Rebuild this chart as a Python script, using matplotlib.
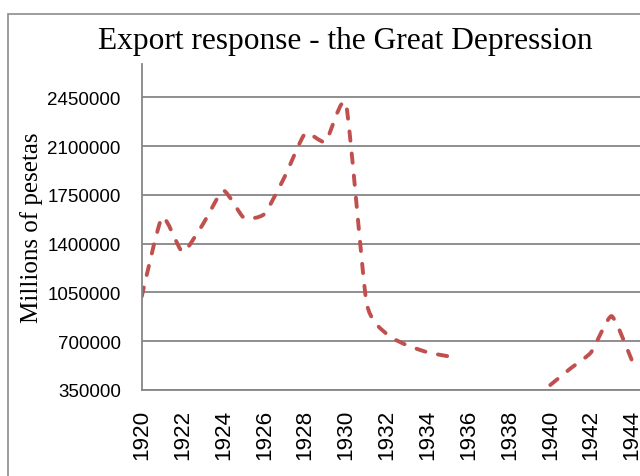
import matplotlib
matplotlib.use("Agg")
import matplotlib.pyplot as plt
from matplotlib.path import Path
from matplotlib.patches import PathPatch, Rectangle

# ---- data ----
years_a = [1920, 1921, 1922, 1923, 1924, 1925, 1926, 1927, 1928, 1929,
           1930, 1931, 1932, 1933, 1934, 1935]
exports_a = [1020000, 1590000, 1340000, 1540000, 1780000, 1585000, 1612000,
             1880000, 2190000, 2130000, 2400000, 980000, 750000, 670000,
             620000, 592000]
years_b = [1940, 1941, 1942, 1943, 1944]
exports_b = [386000, 506000, 621000, 880000, 560000]

y_ticks = [350000, 700000, 1050000, 1400000, 1750000, 2100000, 2450000]
x_ticks = list(range(1920, 1946, 2))
title = "Export response - the Great Depression"
y_label = "Millions of pesetas"

RED = "#C0504D"
GRID = "#868686"
TENSION = 0.09


def smooth_path(xs, ys):
    """Lightly smoothed line (Catmull-Rom style cubic Bezier)."""
    pts = list(zip(xs, ys))
    n = len(pts)
    verts = [pts[0]]
    codes = [Path.MOVETO]
    for i in range(n - 1):
        p0 = pts[i - 1] if i > 0 else pts[i]
        p1 = pts[i]
        p2 = pts[i + 1]
        p3 = pts[i + 2] if i + 2 < n else pts[i + 1]
        c1 = (p1[0] + (p2[0] - p0[0]) * TENSION, p1[1] + (p2[1] - p0[1]) * TENSION)
        c2 = (p2[0] - (p3[0] - p1[0]) * TENSION, p2[1] - (p3[1] - p1[1]) * TENSION)
        verts += [c1, c2, p2]
        codes += [Path.CURVE4] * 3
    return Path(verts, codes)


W, H = 640, 477
fig = plt.figure(figsize=(W / 100, H / 100), dpi=100)

# chart area border (extends past right/bottom edge)
fig.patches.append(Rectangle((8 / W, -0.1), 1.2, 1 - 15 / H + 0.1,
                             transform=fig.transFigure, fill=False,
                             edgecolor="#8C8C8C", linewidth=1.2))

left = 141.7 / W
bottom = 1 - 391 / H
top = 1 - 65 / H
px_per_year = 20.43
xmax = 1946.5
width = (xmax - 1920) * px_per_year / W
ax = fig.add_axes([left, bottom, width, top - bottom])
ax.set_xlim(1920, xmax)
ax.set_ylim(350000, 350000 + (391 - 65) / 48.8 * 350000)

for s in ["top", "right"]:
    ax.spines[s].set_visible(False)
for s in ["left", "bottom"]:
    ax.spines[s].set_color(GRID)
    ax.spines[s].set_linewidth(1.3)

ax.set_yticks(y_ticks)
ax.set_yticklabels([str(v) for v in y_ticks], fontfamily="Liberation Sans",
                   fontsize=13.5)
ax.set_xticks(x_ticks)
ax.set_xticklabels([str(v) for v in x_ticks], rotation=90,
                   fontfamily="Liberation Sans", fontsize=16.2)
ax.tick_params(axis="y", length=0, pad=15)
ax.tick_params(axis="x", length=0, pad=13.5)
ax.yaxis.grid(True, color=GRID, linewidth=1.3)
ax.set_axisbelow(True)

for xs, ys in [(years_a, exports_a), (years_b, exports_b)]:
    patch = PathPatch(smooth_path(xs, ys), fill=False, edgecolor=RED,
                      linewidth=2.8, linestyle=(0, (2.4, 3.3)),
                      capstyle="round")
    ax.add_patch(patch)

fig.text(345 / W, 1 - 41 / H, title, ha="center", va="center",
         fontfamily="Liberation Serif", fontsize=22.6)
fig.text(32 / W, 1 - 228 / H, y_label, ha="center", va="center",
         rotation=90, fontfamily="Liberation Serif", fontsize=18)

fig.savefig("out.png", dpi=100)
